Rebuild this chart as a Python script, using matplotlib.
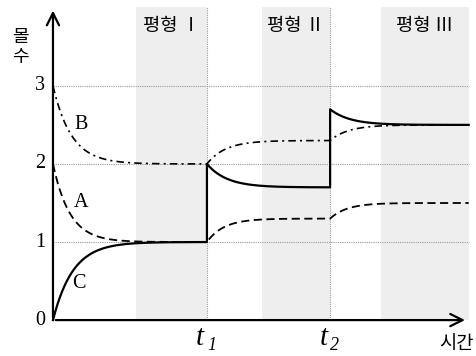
import numpy as np
import matplotlib.pyplot as plt

plt.rcParams['font.family'] = ['Noto Sans CJK KR', 'DejaVu Sans']

# times at which the system is disturbed (start, t1, t2)
t_marks = [0.0, 5.0, 9.0]
t_end = 13.5

# value right after each disturbance and the equilibrium value reached
A_start = [2.0, 1.0, 1.3]
A_eq = [1.0, 1.3, 1.5]
B_start = [3.0, 2.0, 2.3]
B_eq = [2.0, 2.3, 2.5]
C_start = [0.0, 2.0, 2.7]
C_eq = [1.0, 1.7, 2.5]

# shaded equilibrium windows
bands = [(2.7, 5.0, '평형 Ⅰ'), (6.8, 9.0, '평형 Ⅱ'), (10.65, 13.5, '평형 Ⅲ')]


def relax(starts, eqs, tau):
    """Piecewise relaxation of each stage toward its equilibrium value."""
    xs, ys = [], []
    bounds = t_marks + [t_end]
    for i in range(len(t_marks)):
        t = np.linspace(bounds[i], bounds[i + 1], 200)
        y = eqs[i] + (starts[i] - eqs[i]) * np.exp(-(t - bounds[i]) / tau)
        xs.append(t)
        ys.append(y)
    return np.concatenate(xs), np.concatenate(ys)


fig = plt.figure(figsize=(4.77, 3.56), dpi=100)
ax = fig.add_axes([0, 0, 1, 1])
ax.set_xlim(-1.72, 13.77)
ax.set_ylim(-0.46, 4.10)
ax.axis('off')

for x0, x1, name in bands:
    ax.axvspan(x0, x1, ymin=(0 + 0.46) / 4.56, ymax=(4.01 + 0.46) / 4.56,
               color='#eeeeee', lw=0, zorder=0)
    ax.text((x0 + x1) / 2, 3.77, name, ha='center', va='center', fontsize=13.5)

# dotted guides
for v in [1, 2, 3]:
    ax.plot([0, t_end], [v, v], color='#999999', lw=0.8, ls=(0, (1, 1)), zorder=1)
for t in t_marks[1:]:
    ax.plot([t, t], [0, 4.01], color='#999999', lw=0.8, ls=(0, (1, 1)), zorder=1)

xa, ya = relax(A_start, A_eq, 0.55)
xb, yb = relax(B_start, B_eq, 0.6)
xc, yc = relax(C_start, C_eq, 0.65)
ax.plot(xa, ya, color='black', lw=1.3, ls=(0, (4.5, 2.5)), zorder=3)
ax.plot(xb, yb, color='black', lw=1.2, ls=(0, (4.5, 2.5, 1.2, 2.5)), zorder=3)
ax.plot(xc, yc, color='black', lw=1.6, zorder=4)

# axes with open arrow heads
arrow = dict(arrowstyle='->', lw=1.6, color='black', mutation_scale=22)
ax.annotate('', xy=(0, 4.0), xytext=(0, 0), arrowprops=arrow, zorder=5)
ax.annotate('', xy=(13.47, 0), xytext=(0, 0), arrowprops=arrow, zorder=5)

serif = ['Liberation Serif', 'DejaVu Serif']
for v in [0, 1, 2, 3]:
    ax.text(-0.42, v, str(v), ha='center', va='center', fontsize=14.5, family=serif)

ax.text(0.9, 2.5, 'B', ha='center', va='center', fontsize=14.5, family=serif)
ax.text(0.9, 1.5, 'A', ha='center', va='center', fontsize=14.5, family=serif)
ax.text(0.85, 0.47, 'C', ha='center', va='center', fontsize=14.5, family=serif)

# t1, t2 written as italic t with an italic subscript digit
for t, sub in zip(t_marks[1:], ['1', '2']):
    ax.text(t - 0.22, -0.23, 't', ha='center', va='center', fontsize=21,
            family=serif, style='italic')
    ax.text(t + 0.15, -0.32, sub, ha='center', va='center', fontsize=13,
            family=serif, style='italic')

ax.text(13.1, -0.30, '시간', ha='center', va='center', fontsize=13.5)
ax.text(-1.07, 3.50, '몰\n수', ha='center', va='center', fontsize=13,
        linespacing=1.15)

fig.savefig('out.png', dpi=100)
